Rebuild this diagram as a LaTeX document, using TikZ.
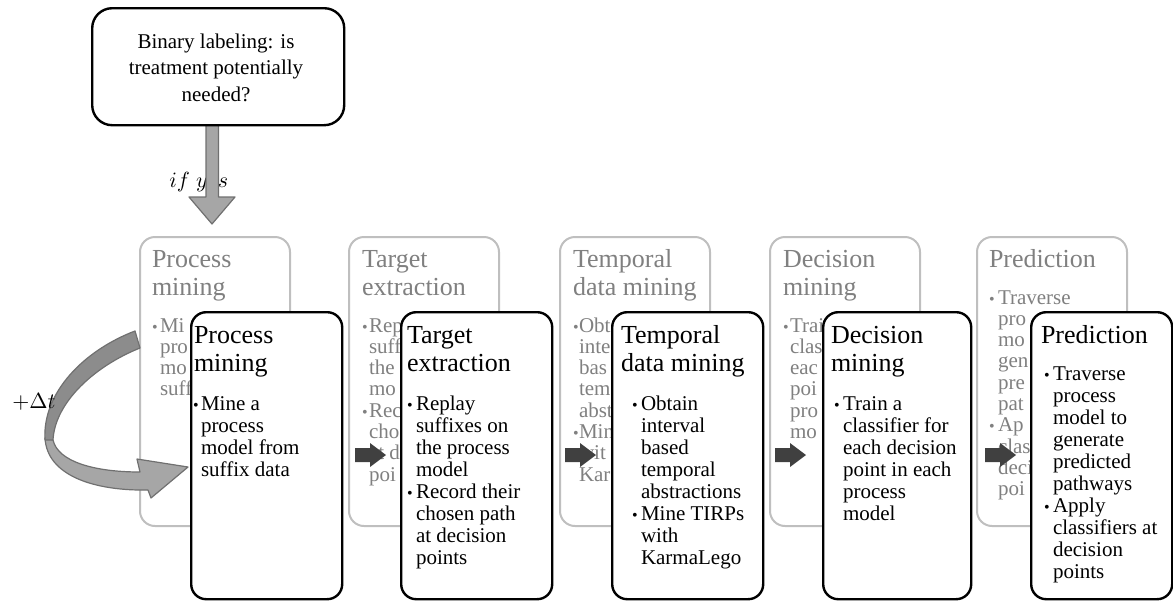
\documentclass[tikz,border=0pt]{standalone}
\usepackage{fontspec}
\setmainfont{Liberation Serif}
\definecolor{bgline}{HTML}{BFBFBF}
\definecolor{bgtext}{HTML}{808080}
\definecolor{darkarrow}{HTML}{404040}
\definecolor{arrowfill}{HTML}{A6A6A6}
\definecolor{arrowdark}{HTML}{8C8C8C}
\definecolor{arrowline}{HTML}{707070}
\newcommand{\mklines}[1]{\begin{tabular}[t]{@{}l@{}}#1\end{tabular}}
\newcommand{\mkcentered}[1]{\begin{tabular}[t]{@{}c@{}}#1\end{tabular}}
\begin{document}
\begin{tikzpicture}[x=0.5pt,y=-0.5pt,
  bgbox/.style={draw=bgline,line width=1pt,rounded corners=7.5pt,fill=white,anchor=north west,inner sep=0pt,minimum width=75pt,minimum height=144.5pt},
  fgbox/.style={draw=black,line width=1.2pt,rounded corners=7.5pt,fill=white,anchor=north west,inner sep=0pt,minimum width=75.5pt,minimum height=143.5pt},
  txt/.style={inner sep=0pt,outer sep=0pt,anchor=base west},
  ttl/.style={txt,font=\fontsize{13}{14}\selectfont},
  fgbody/.style={txt,font=\fontsize{10.5}{11}\selectfont},
  bgbody/.style={txt,font=\fontsize{10.5}{10.65}\selectfont},
  bul/.style={inner sep=0pt,outer sep=0pt,anchor=base west,font=\fontsize{8}{10}\selectfont},
  gtext/.style={text=bgtext},
  blockarrow/.style={fill=arrowfill,draw=arrowline,line width=0.6pt,line join=round},
  chev/.style={fill=darkarrow,draw=none},
]
\useasboundingbox (0,0) rectangle (1173,600);

% ---------- background boxes (partly hidden behind the front boxes) ----------
\node[bgbox] (b1) at (139,236) {};
\node[ttl,gtext] (b1t) at (152,267) {\mklines{Process\\mining}};
\node[bul,gtext] (b1u1) at (152,332) {\textbullet};
\node[bgbody,gtext] (b1b) at (160,332) {\mklines{Mi\\pro\\mo\\suff}};

\node[bgbox] (b2) at (348,236) {};
\node[ttl,gtext] (b2t) at (362,267) {\mklines{Target\\extraction}};
\node[bul,gtext] (b2u1) at (362,332) {\textbullet};
\node[bul,gtext] (b2u2) at (362,417.2) {\textbullet};
\node[bgbody,gtext] (b2b) at (369,332) {\mklines{Rep\\suff\\the\\mo\\Rec\\cho\\at d\\poi}};

\node[bgbox] (b3) at (559,236) {};
\node[ttl,gtext] (b3t) at (573,267) {\mklines{Temporal\\data mining}};
\node[bul,gtext] (b3u1) at (573,332) {\textbullet};
\node[bul,gtext] (b3u2) at (573,438.5) {\textbullet};
\node[bgbody,gtext] (b3b) at (579,332) {\mklines{Obt\\inte\\bas\\tem\\abst\\Min\\wit\\Kar}};

\node[bgbox] (b4) at (769,236) {};
\node[ttl,gtext] (b4t) at (783,267) {\mklines{Decision\\mining}};
\node[bul,gtext] (b4u1) at (783,332) {\textbullet};
\node[bgbody,gtext] (b4b) at (790,332) {\mklines{Trai\\clas\\eac\\poi\\pro\\mo}};

\node[bgbox] (b5) at (976,236) {};
\node[ttl,gtext] (b5t) at (989,267) {Prediction};
\node[bul,gtext] (b5u1) at (989,304) {\textbullet};
\node[bul,gtext] (b5u2) at (989,431.8) {\textbullet};
\node[bgbody,gtext] (b5b) at (998,304) {\mklines{Traverse\\pro\\mo\\gen\\pre\\pat\\Ap\\clas\\deci\\poi}};

% ---------- front boxes ----------
\node[fgbox] (f1) at (190,311) {};
\node[ttl] (f1t) at (194,343) {\mklines{Process\\mining}};
\node[bul] (f1u1) at (193,410) {\textbullet};
\node[fgbody] (f1b) at (201,410) {\mklines{Mine a\\process\\model from\\suffix data}};

\node[fgbox] (f2) at (400,311) {};
\node[ttl] (f2t) at (407,343) {\mklines{Target\\extraction}};
\node[bul] (f2u1) at (407,410) {\textbullet};
\node[bul] (f2u2) at (407,498) {\textbullet};
\node[fgbody] (f2b) at (416,410) {\mklines{Replay\\suffixes on\\the process\\model\\Record their\\chosen path\\at decision\\points}};

\node[fgbox] (f3) at (611,311) {};
\node[ttl] (f3t) at (621,343) {\mklines{Temporal\\data mining}};
\node[bul] (f3u1) at (632,410) {\textbullet};
\node[bul] (f3u2) at (632,520) {\textbullet};
\node[fgbody] (f3b) at (641,410) {\mklines{Obtain\\interval\\based\\temporal\\abstractions\\Mine TIRPs\\with\\KarmaLego}};

\node[fgbox,minimum width=74pt] (f4) at (822,311) {};
\node[ttl] (f4t) at (831,343) {\mklines{Decision\\mining}};
\node[bul] (f4u1) at (834,410) {\textbullet};
\node[fgbody] (f4b) at (843,410) {\mklines{Train a\\classifier for\\each decision\\point in each\\process\\model}};

\node[fgbox,minimum width=70.5pt] (f5) at (1030,311) {};
\node[ttl] (f5t) at (1041,343) {Prediction};
\node[bul] (f5u1) at (1044,380) {\textbullet};
\node[bul] (f5u2) at (1044,512) {\textbullet};
\node[fgbody] (f5b) at (1053,380) {\mklines{Traverse\\process\\model to\\generate\\predicted\\pathways\\Apply\\classifiers at\\decision\\points}};

% ---------- top question and arrow ----------
\node[anchor=base west,inner sep=0pt,font=\fontsize{11}{12}\selectfont] (ify) at (169,187) {$if\;yes$};
\draw[blockarrow] (206,124) -- (218.5,124) -- (218.5,197) -- (235,197) -- (212,224) -- (189,197) -- (206,197) -- cycle;
\node[draw=black,line width=1.2pt,rounded corners=10pt,fill=white,anchor=north west,inner sep=0pt,minimum width=126pt,minimum height=58.5pt] (q) at (91,7) {};
\node[anchor=base,inner sep=0pt,font=\fontsize{10.5}{13.25}\selectfont] (qt) at (216,48) {\mkcentered{Binary labeling: is\\treatment potentially\\needed?}};

% ---------- curved feedback arrow ----------
\draw[blockarrow] (45,438) .. controls (47,476) and (95,491) .. (148,490)
  -- (151,498) -- (188,467) -- (137,459) -- (140,472)
  .. controls (95,472) and (58,462) .. (53,440) -- cycle;
\draw[blockarrow,fill=arrowdark] (135,331) .. controls (85,350) and (42,392) .. (45,440)
  -- (53,440) .. controls (55,402) and (95,366) .. (140,348) -- cycle;
\node[anchor=base west,inner sep=0pt,font=\fontsize{11}{12}\selectfont] (dt) at (12,408) {$+\Delta t$};

% ---------- step arrows ----------
\foreach \x in {355,565,775,985}{
  \fill[chev] (\x,448) -- (\x+15,448) -- (\x+15,443) -- (\x+31,455) -- (\x+15,467) -- (\x+15,462) -- (\x,462) -- cycle;
}
\end{tikzpicture}
\end{document}
